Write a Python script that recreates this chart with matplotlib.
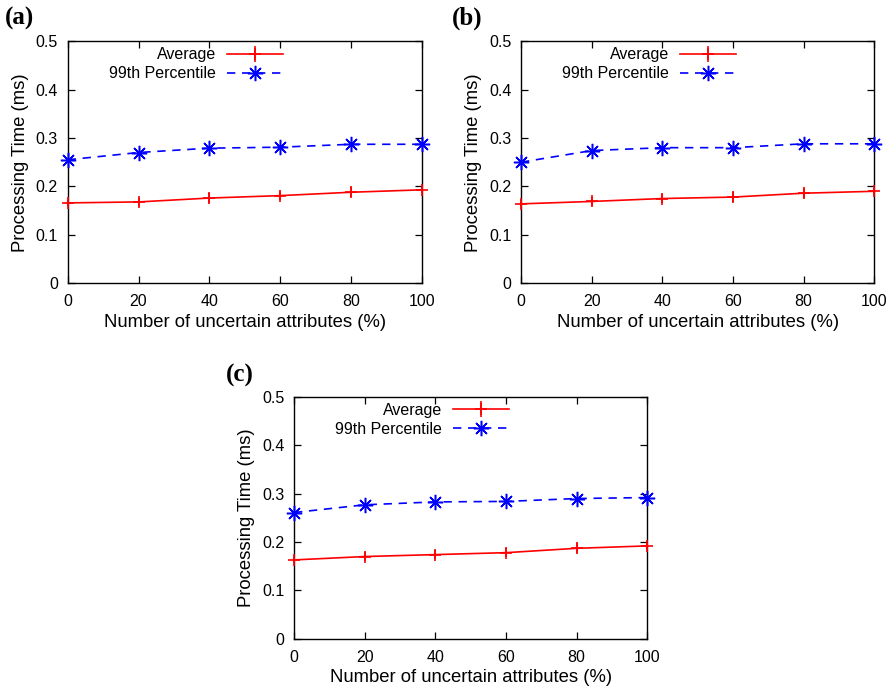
import matplotlib.pyplot as plt
import numpy as np

plt.rcParams['font.family'] = ['Liberation Sans', 'DejaVu Sans']

# Data
attrs = [0, 20, 40, 60, 80, 100]

avg_a = [0.166, 0.168, 0.176, 0.181, 0.188, 0.193]
p99_a = [0.255, 0.270, 0.279, 0.281, 0.287, 0.287]
avg_b = [0.164, 0.169, 0.175, 0.178, 0.186, 0.190]
p99_b = [0.250, 0.274, 0.280, 0.280, 0.288, 0.288]
avg_c = [0.163, 0.170, 0.174, 0.178, 0.187, 0.192]
p99_c = [0.261, 0.277, 0.283, 0.284, 0.290, 0.292]

avg_err = [0.007, 0.009, 0.010, 0.010, 0.010, 0.007]

panel_names = ["(a)", "(b)", "(c)"]
xticks = [0, 20, 40, 60, 80, 100]
yticks = [0, 0.1, 0.2, 0.3, 0.4, 0.5]
ytick_labels = ["0", "0.1", "0.2", "0.3", "0.4", "0.5"]

fig = plt.figure(figsize=(8.94, 6.92), dpi=100)

# axes rectangles (figure fractions)
rects = [
    [0.0757, 0.5906, 0.3963, 0.350],
    [0.5828, 0.5906, 0.3952, 0.350],
    [0.3289, 0.0770, 0.3952, 0.3493],
]
label_pos = [(0.006, 0.974), (0.505, 0.974), (0.253, 0.457)]

for rect, lab, lpos, avg, p99 in zip(rects, panel_names, label_pos,
                                      [avg_a, avg_b, avg_c],
                                      [p99_a, p99_b, p99_c]):
    ax = fig.add_axes(rect)
    h1 = ax.errorbar(attrs, avg, yerr=avg_err, color="red", lw=1.2, marker="+",
                     ms=8, mew=1.2, elinewidth=1.2, capsize=0, label="Average",
                     clip_on=False, zorder=3)
    h2, = ax.plot(attrs, p99, color="blue", lw=1.2, dashes=(5, 4),
                  marker=(8, 2, 0), ms=11, mew=1.1, label="99th Percentile",
                  clip_on=False, zorder=3)

    ax.set_xlim(0, 100)
    ax.set_ylim(0, 0.5)
    ax.set_xticks(xticks)
    ax.set_yticks(yticks)
    ax.set_yticklabels(ytick_labels)
    ax.tick_params(direction="in", top=True, right=True, length=5,
                   width=0.9, labelsize=11.5)
    ax.tick_params(axis="x", pad=8)
    ax.tick_params(axis="y", pad=7)
    for s in ax.spines.values():
        s.set_linewidth(1.0)

    ax.set_xlabel("Number of uncertain attributes (%)", fontsize=13.3, labelpad=3)
    ax.set_ylabel("Processing Time (ms)", fontsize=13.3, labelpad=5)

    ax.legend([h1, h2], ["Average", "99th Percentile"],
              loc="upper right", bbox_to_anchor=(0.608, 0.975),
              markerfirst=False, frameon=False, fontsize=11.5,
              handlelength=3.5, handletextpad=0.7, labelspacing=0.25,
              borderpad=0, borderaxespad=0)

    fig.text(lpos[0], lpos[1], lab, fontsize=18, fontweight="bold",
             family="Liberation Serif", va="center", ha="left")

plt.savefig("out.png", dpi=100)
